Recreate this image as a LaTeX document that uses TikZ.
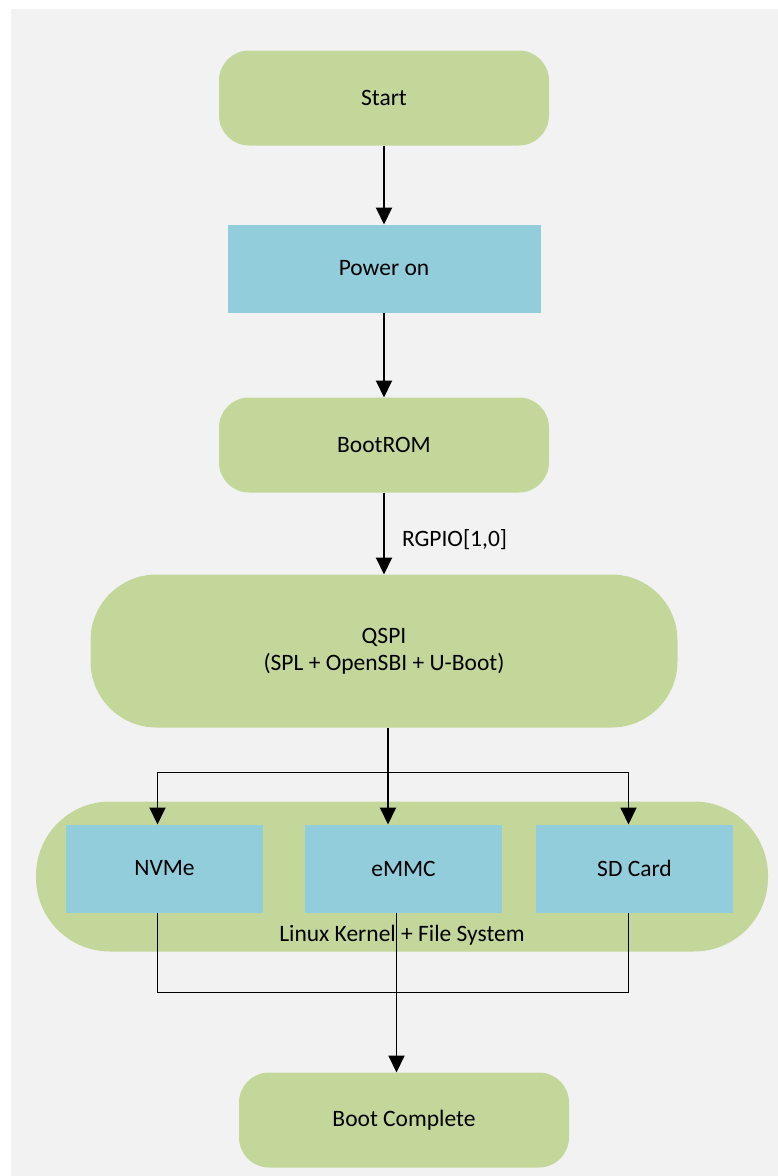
\documentclass[tikz,border=0pt]{standalone}
\usepackage{fontspec}
\setmainfont{Carlito}
\usetikzlibrary{positioning,arrows.meta}

\definecolor{stagegreen}{HTML}{C4D79B}
\definecolor{mediablue}{HTML}{92CDDC}
\definecolor{pagegray}{HTML}{F2F2F2}

\begin{document}
\begin{tikzpicture}[x=1pt,y=-1pt,
				every node/.style={font=\fontsize{23.5}{27}\selectfont,align=center,inner sep=0pt,outer sep=0pt},
				stage/.style={fill=stagegreen,rounded corners=30pt,minimum width=330pt,minimum height=95pt},
				media/.style={fill=mediablue,minimum width=197pt,minimum height=88pt},
				flow/.style={-{Triangle[width=16pt,length=17pt]},line width=1.9pt},
				link/.style={line width=1.9pt}]
				% page
				\fill[white]    (0,0)  rectangle (778,1176);
				\fill[pagegray] (11,9) rectangle (778,1176);

				\node[stage] (start) at (384,98) {Start};
				\node[media,minimum width=313pt] (power) [below=79pt of start] {Power on};
				\node[stage] (bootrom) [below=85pt of power] {BootROM};
				\node[stage,minimum width=587pt,minimum height=153pt,rounded corners=66pt] (qspi) [below=82pt of bootrom]
					{QSPI\\(SPL + OpenSBI + U-Boot)};
				\node[stage,minimum width=732pt,minimum height=150pt,rounded corners=74pt] (kernel) [below=74pt of qspi,xshift=18pt] {};
				\node[media,anchor=north west] (nvme) at ([shift={(30pt,-23pt)}]kernel.north west) {NVMe};
				\node[media] (emmc) [right=42pt of nvme] {eMMC};
				\node[media] (sd)   [right=34pt of emmc] {SD Card};
				\node (fs) at ([yshift=16pt]kernel.south) {Linux Kernel + File System};
				\node[stage] (done) [below=121pt of kernel,xshift=2pt] {Boot Complete};

				\draw[flow] (start) -- (power);
				\draw[flow] (power) -- (bootrom);
				\draw[flow] (bootrom) -- node[right=18pt,yshift=-6pt] {RGPIO[1,0]} (qspi);

				% fan out to the boot media
				\coordinate (fork) at ([xshift=4pt,yshift=-45pt]qspi.south);
				\draw[link] ([xshift=4pt]qspi.south) -- (fork);
				\draw[flow] (fork) -- (fork |- emmc.north);
				\draw[flow] (fork) -| ([xshift=-7pt]nvme.north);
				\draw[flow] (fork) -| ([xshift=-6pt]sd.north);

				% and back together
				\draw[link] ([xshift=-7pt]nvme.south) -- ++(0,80) -| ([xshift=-6pt]sd.south);
				\draw[flow] ([xshift=-7pt]emmc.south) -- ([xshift=-7pt]emmc.south |- done.north);
			\end{tikzpicture}
\end{document}
